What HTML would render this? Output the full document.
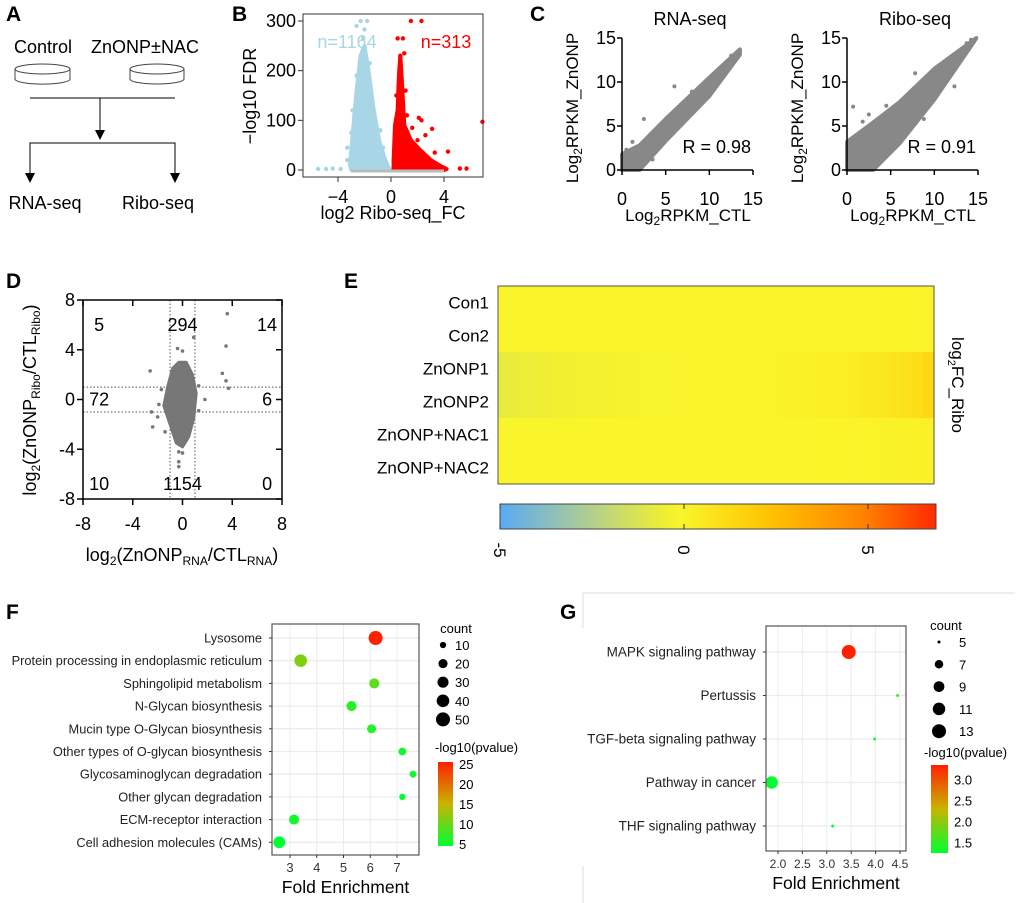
<!DOCTYPE html>
<html><head><meta charset="utf-8"><style>
body{margin:0;background:#fff}
svg{display:block;font-family:"Liberation Sans",Arial,sans-serif}
</style></head><body>
<svg id="fig" width="1020" height="903" viewBox="0 0 1020 903" xmlns="http://www.w3.org/2000/svg">
<g fill="none" stroke="#444" stroke-width="1">
<text x="6" y="21" font-size="21" font-weight="bold" fill="#000" stroke="none">A</text>
<text x="43" y="53" font-size="18" text-anchor="middle" fill="#000" stroke="none">Control</text>
<text x="145" y="53" font-size="18" text-anchor="middle" fill="#000" stroke="none">ZnONP±NAC</text>
<g><path d="M15 69 v10 a27 5 0 0 0 55 0 v-10"/><ellipse cx="42.5" cy="69" rx="27.5" ry="5"/></g>
<g><path d="M130 69 v10 a27 5 0 0 0 54 0 v-10"/><ellipse cx="157" cy="69" rx="27" ry="5"/></g>
<line x1="30" y1="98" x2="175" y2="98" stroke="#000"/>
<line x1="100" y1="98" x2="100" y2="132" stroke="#000"/>
<path d="M95 130 L105 130 L100 140Z" fill="#000" stroke="none"/>
<path d="M30 176 V143 H175 V176" stroke="#000"/>
<path d="M25 173 L35 173 L30 183Z M170 173 L180 173 L175 183Z" fill="#000" stroke="none"/>
<text x="45" y="209" font-size="18" text-anchor="middle" fill="#000" stroke="none">RNA-seq</text>
<text x="158" y="209" font-size="18" text-anchor="middle" fill="#000" stroke="none">Ribo-seq</text>
</g>
<text x="232" y="21" font-size="21" font-weight="bold">B</text>
<text x="530" y="21" font-size="21" font-weight="bold">C</text>
<text x="6" y="288" font-size="21" font-weight="bold">D</text>
<text x="344" y="288" font-size="21" font-weight="bold">E</text>
<text x="6" y="619" font-size="21" font-weight="bold">F</text>
<text x="560" y="619" font-size="21" font-weight="bold">G</text>
<path d="M583 593 H1015 M583 593 V628 M583 866 V903" stroke="#ddd" fill="none"/>
</svg>
<script>
// ---------- data arrays ----------
const volcanoBlueEnvelope = [[-3,0],[-3.1,10],[-3,40],[-2.8,100],[-2.6,160],[-2.3,230],[-2.0,250],[-1.7,200],[-1.3,120],[-0.9,60],[-0.5,25],[-0.2,5],[0,0]];
const volcanoBlueOutliers = [[-5.5,2],[-4.9,2],[-4.4,3],[-3.8,2],[-2.6,290],[-2.0,283],[-2.3,300],[-1.8,300],[-3.3,20],[-3.3,45],[-3.0,75],[-2.9,120],[-2.6,190],[-1.5,160],[-1.2,100],[-0.8,80],[-0.6,45],[-2.1,265],[-1.6,215]];
const volcanoRedEnvelope = [[0.2,0],[0.2,20],[0.3,90],[0.5,120],[0.6,190],[0.7,230],[0.8,190],[1.0,90],[1.5,60],[2.2,40],[3,20],[3.6,10],[4.2,2],[4,0]];
const volcanoRedOutliers = [[0.5,265],[0.9,265],[0.7,230],[1.0,235],[2.1,105],[2.3,100],[3.1,83],[4.3,37],[5.2,3],[5.7,3],[6.9,97],[1.5,300],[2.3,300],[1.2,110],[1.6,85],[2.6,70],[2.0,60],[3.3,35],[0.4,150],[1.1,160],[1.8,40],[2.8,25]];
const volcanoLabels = ["n=1164","n=313"];
const bXTicks = [-4,0,4];
const bYTicks = [0,100,200,300];

const rnaBand = [[0,0],[2,0],[5,3.3],[10,8.4],[13.5,13.1],[13.5,13.7],[10,10.5],[5,5.8],[2,2.8],[0,1.8]];
const rnaOutliers = [[6,9.5],[2.5,5.8],[0.5,2.3],[12.5,13],[13.5,13.5],[1.2,3.2],[3.5,1.2],[8,8.9]];
const riboBand = [[0,0],[3,0],[6,3],[10,8],[14.5,14.5],[14.8,15],[10,11.5],[6,7.7],[3,5.4],[0,3.2]];
const riboOutliers = [[0.7,7.2],[7.8,11],[12.3,9.5],[1.8,5.5],[13.7,14.4],[14.2,14.8],[2.5,6.3],[4.5,7.3],[8.8,5.8]];
const cTicks = [0,5,10,15];
const cR = ["R = 0.98","R = 0.91"];

const dBlob = [[-0.5,-3.5],[-1,-2],[-1.5,-0.5],[-1.2,1],[-0.8,2.5],[-0.3,3],[0.3,3],[0.8,2],[1.1,0.5],[0.9,-1.5],[0.5,-3],[0,-3.8]];
const dOutliers = [[-2.6,2.3],[-2.4,-2.2],[-2.5,-1],[3.6,6.9],[3.5,4.3],[3.2,2.1],[3.5,1.5],[3.7,0.9],[0.9,5],[-0.4,4.1],[0,3.9],[-0.3,-4.2],[0,-4.3],[-0.3,-5],[-0.3,-5.4],[1.8,0],[1.3,1.1],[-1.9,-0.4],[-2,-1.4],[-1.7,0.8],[1.3,-0.9],[-1.4,-2.6]];
const dTicks = [-8,-4,0,4,8];
const dCounts = [["5",-6.7,6],["294",0,6],["14",6.8,6],["72",-6.7,0],["6",6.8,0],["10",-6.7,-6.8],["1154",0,-6.8],["0",6.8,-6.8]];

const heatRows = ["Con1","Con2","ZnONP1","ZnONP2","ZnONP+NAC1","ZnONP+NAC2"];
const heatCon = [0,0,0,0,0,0,0,0,0,0,0,0,0,0,0,0,0,0,0,0,0,0,0,0,0,0,0,0,0,0,0,0,0,0.02,0.02,0.03,0.04,0.05,0.06,0.08];
const heatZn = [-0.75,-0.7,-0.65,-0.6,-0.55,-0.5,-0.45,-0.4,-0.35,-0.3,-0.26,-0.22,-0.18,-0.15,-0.12,-0.1,-0.07,-0.05,-0.03,0,0,0,0.02,0.05,0.08,0.1,0.13,0.17,0.2,0.25,0.3,0.35,0.42,0.5,0.58,0.68,0.8,0.95,1.15,1.4];
const heatNac = [0,0,0,0,0,0,0,0,0,0,0,0,0,0,0,0,0,0,0,0,0,0,0,0,0,0,0,0,0.02,0.03,0.05,0.06,0.08,0.1,0.1,0.12,0.14,0.16,0.18,0.2];
const heatValues = [heatCon,heatCon,heatZn,heatZn,heatNac,heatNac];
const cbTicks = [-5,0,5];

const fTerms = ["Lysosome","Protein processing in endoplasmic reticulum","Sphingolipid metabolism","N-Glycan biosynthesis","Mucin type O-Glycan biosynthesis","Other types of O-glycan biosynthesis","Glycosaminoglycan degradation","Other glycan degradation","ECM-receptor interaction","Cell adhesion molecules (CAMs)"];
const fEnrich = [6.2,3.4,6.15,5.3,6.05,7.2,7.6,7.2,3.15,2.6];
const fCount = [50,40,25,25,20,15,12,10,25,35];
const fPval = [27,12,10,7,7,6,6,5,6,5];
const fXTicks = [3,4,5,6,7];
const fCountLegend = [10,20,30,40,50];
const fPLegend = [25,20,15,10,5];

const gTerms = ["MAPK signaling pathway","Pertussis","TGF-beta signaling pathway","Pathway in cancer","THF signaling pathway"];
const gEnrich = [3.45,4.45,3.98,1.87,3.12];
const gCount = [13,5,5,11,5];
const gPval = [3.3,1.6,1.5,1.3,1.3];
const gXTicks = [2.0,2.5,3.0,3.5,4.0,4.5];
const gCountLegend = [5,7,9,11,13];
const gPLegend = [3.0,2.5,2.0,1.5];

// ---------- helpers ----------
const svg = document.getElementById('fig');
const NS = 'http://www.w3.org/2000/svg';
function mk(tag, attrs, parent, txt){const e=document.createElementNS(NS,tag);for(const k in attrs)e.setAttribute(k,attrs[k]);if(txt!==undefined)e.textContent=txt;(parent||svg).appendChild(e);return e;}
function lin(d0,d1,r0,r1){return v=>r0+(v-d0)*(r1-r0)/(d1-d0);}
function poly(pts,sx,sy){return pts.map(p=>sx(p[0]).toFixed(1)+','+sy(p[1]).toFixed(1)).join(' ');}
function mixHex(a,b,t){const pa=[1,3,5].map(i=>parseInt(a.substr(i,2),16)),pb=[1,3,5].map(i=>parseInt(b.substr(i,2),16));return 'rgb('+pa.map((v,i)=>Math.round(v+(pb[i]-v)*t)).join(',')+')';}

// ---------- Panel B ----------
(function(){
const g=mk('g',{});


const sx=lin(0,4,391,444), sy=lin(0,300,170,21);
const env1=mk('polygon',{points:poly(volcanoBlueEnvelope,sx,sy),fill:'#a9d6e6',stroke:'#a9d6e6','stroke-width':4,'stroke-linejoin':'round'},g);


const env2=mk('polygon',{points:poly(volcanoRedEnvelope,sx,sy),fill:'#f00',stroke:'#f00','stroke-width':4,'stroke-linejoin':'round'},g);


mk('line',{x1:sx(-3),x2:sx(4),y1:sy(0)+1,y2:sy(0)+1,stroke:'#bbb','stroke-width':3},g);
volcanoBlueOutliers.forEach(p=>{const c=mk('circle',{cx:sx(p[0]),cy:sy(p[1]),r:2.2,fill:'#a9d6e6'},g);

});
volcanoRedOutliers.forEach(p=>{const c=mk('circle',{cx:sx(p[0]),cy:sy(p[1]),r:2.2,fill:'#f00'},g);

});
const fr=mk('rect',{x:303,y:14,width:180,height:163,fill:'none',stroke:'#333','stroke-width':1},g);


bXTicks.forEach(t=>{mk('line',{x1:sx(t),x2:sx(t),y1:177,y2:182,stroke:'#333'},g);const l=mk('text',{x:sx(t),y:203,'font-size':18,'text-anchor':'middle'},g,t<0?'\u2212'+(-t):String(t));

});
bYTicks.forEach(t=>{mk('line',{x1:298,x2:303,y1:sy(t),y2:sy(t),stroke:'#333'},g);const l=mk('text',{x:296,y:sy(t)+6,'font-size':18,'text-anchor':'end'},g,String(t));

});
const l1=mk('text',{x:347,y:48,'font-size':18,'text-anchor':'middle',fill:'#a9d6e6'},g,volcanoLabels[0]);


const l2=mk('text',{x:446,y:48,'font-size':18,'text-anchor':'middle',fill:'#f00'},g,volcanoLabels[1]);


const xt=mk('text',{x:393,y:219,'font-size':18,'text-anchor':'middle'},g,'log2 Ribo-seq_FC');


const yt=mk('text',{x:0,y:0,'font-size':18,'text-anchor':'middle',transform:'translate(256,96) rotate(-90)'},g,'\u2212log10 FDR');


})();

// ---------- Panel C ----------
function scatterC(x0,title,band,outs,rtxt,nm){
const g=mk('g',{});


const sx=lin(0,15,x0,x0+131), sy=lin(0,15,170,38);
const b=mk('polygon',{points:poly(band,sx,sy),fill:'#888',stroke:'#888','stroke-width':4,'stroke-linejoin':'round'},g);


outs.forEach(p=>{const c=mk('circle',{cx:sx(p[0]),cy:sy(p[1]),r:2,fill:'#888'},g);

});
mk('path',{d:`M${x0} 38 V170 H${x0+131}`,fill:'none',stroke:'#000','stroke-width':1.5},g);
cTicks.forEach(t=>{mk('line',{x1:sx(t),x2:sx(t),y1:170,y2:175,stroke:'#000','stroke-width':1.5},g);mk('line',{x1:x0-5,x2:x0,y1:sy(t),y2:sy(t),stroke:'#000','stroke-width':1.5},g);
const a=mk('text',{x:sx(t),y:205,'font-size':18,'text-anchor':'middle'},g,String(t));


const bb=mk('text',{x:x0-6,y:sy(t)+6,'font-size':18,'text-anchor':'end'},g,String(t));

});
const t1=mk('text',{x:x0+68,y:25,'font-size':18,'text-anchor':'middle'},g,title);


const r=mk('text',{x:x0+129,y:153,'font-size':18,'text-anchor':'end'},g,rtxt);


const xt=mk('text',{x:x0+66,y:221,'font-size':17,'text-anchor':'middle'},g);


xt.innerHTML='Log<tspan font-size="12" dy="4">2</tspan><tspan dy="-4">RPKM_CTL</tspan>';
const yt=mk('text',{'font-size':17,'text-anchor':'middle',transform:`translate(${x0-44},108) rotate(-90)`},g);


yt.innerHTML='Log<tspan font-size="12" dy="4">2</tspan><tspan dy="-4">RPKM_ZnONP</tspan>';
}
scatterC(622,'RNA-seq',rnaBand,rnaOutliers,cR[0],'rna-seq-scatter');
scatterC(847,'Ribo-seq',riboBand,riboOutliers,cR[1],'ribo-seq-scatter');

// ---------- Panel D ----------
(function(){
const g=mk('g',{});


const sx=lin(-8,8,83,282), sy=lin(-8,8,499,300);
[-1,1].forEach(v=>{mk('line',{x1:sx(v),x2:sx(v),y1:300,y2:499,stroke:'#555','stroke-dasharray':'1.5,2'},g);mk('line',{x1:83,x2:282,y1:sy(v),y2:sy(v),stroke:'#555','stroke-dasharray':'1.5,2'},g);});
const b=mk('polygon',{points:poly(dBlob,sx,sy),fill:'#777',stroke:'#777','stroke-width':3,'stroke-linejoin':'round'},g);


dOutliers.forEach(p=>{const c=mk('circle',{cx:sx(p[0]),cy:sy(p[1]),r:1.8,fill:'#777'},g);

});
mk('rect',{x:83,y:300,width:199,height:199,fill:'none',stroke:'#000','stroke-width':1.5},g);
dTicks.forEach(t=>{mk('line',{x1:sx(t),x2:sx(t),y1:499,y2:505,stroke:'#000','stroke-width':1.5},g);mk('line',{x1:sx(t),x2:sx(t),y1:300,y2:306,stroke:'#000','stroke-width':1.5},g);
mk('line',{x1:77,x2:83,y1:sy(t),y2:sy(t),stroke:'#000','stroke-width':1.5},g);mk('line',{x1:276,x2:282,y1:sy(t),y2:sy(t),stroke:'#000','stroke-width':1.5},g);
const a=mk('text',{x:sx(t),y:530,'font-size':18,'text-anchor':'middle'},g,String(t));


const bb=mk('text',{x:75,y:sy(t)+6,'font-size':18,'text-anchor':'end'},g,String(t));

});
dCounts.forEach(c=>{const t=mk('text',{x:sx(c[1]),y:sy(c[2])+6,'font-size':18,'text-anchor':'middle'},g,c[0]);

});
const xt=mk('text',{x:182,y:561,'font-size':18,'text-anchor':'middle'},g);


xt.innerHTML='log<tspan font-size="12" dy="4">2</tspan><tspan dy="-4">(ZnONP</tspan><tspan font-size="12" dy="4">RNA</tspan><tspan dy="-4">/CTL</tspan><tspan font-size="12" dy="4">RNA</tspan><tspan dy="-4">)</tspan>';
const yt=mk('text',{'font-size':18,'text-anchor':'middle',transform:'translate(36,400) rotate(-90)'},g);


yt.innerHTML='log<tspan font-size="12" dy="4">2</tspan><tspan dy="-4">(ZnONP</tspan><tspan font-size="12" dy="4">Ribo</tspan><tspan dy="-4">/CTL</tspan><tspan font-size="12" dy="4">Ribo</tspan><tspan dy="-4">)</tspan>';
})();

// ---------- Panel E ----------
function heatColor(v){
const stops=[[-5,'#5aaaf5'],[-2.5,'#b4cf8c'],[-0.5,'#f0ef30'],[0,'#faf52a'],[2.5,'#ffc000'],[5,'#ff8000'],[6.9,'#ff2a00']];
if(v<=stops[0][0])return stops[0][1];
for(let i=1;i<stops.length;i++){if(v<=stops[i][0]){const t=(v-stops[i-1][0])/(stops[i][0]-stops[i-1][0]);return mixHex(stops[i-1][1],stops[i][1],t);}}
return stops[stops.length-1][1];}
(function(){
const g=mk('g',{});


const x0=498,x1=934,y0=286,y1=484,rh=(y1-y0)/heatRows.length;
heatValues.forEach((row,r)=>{const cw=(x1-x0)/row.length;
row.forEach((v,c)=>{const cell=mk('rect',{x:x0+c*cw,y:y0+r*rh,width:cw+0.6,height:rh+0.4,fill:heatColor(v)},g);

});
const l=mk('text',{x:489,y:y0+r*rh+rh/2+6,'font-size':17,'text-anchor':'end'},g,heatRows[r]);

});
mk('rect',{x:x0,y:y0,width:x1-x0,height:y1-y0,fill:'none',stroke:'#555'},g);
const lt=mk('text',{'font-size':17,'text-anchor':'middle',transform:'translate(952,385) rotate(90)'},g);


lt.innerHTML='log<tspan font-size="11" dy="4">2</tspan><tspan dy="-4">FC_Ribo</tspan>';
const cs=lin(-5,5,500,868);
const defs=mk('defs',{},g);const gr=mk('linearGradient',{id:'cbg',x1:0,x2:1,y1:0,y2:1e-9},defs);
for(let i=0;i<=24;i++){const v=-5+i*(11.9/24);mk('stop',{offset:i/24,'stop-color':heatColor(v)},gr);}
const cb=mk('rect',{x:500,y:504,width:436,height:25,fill:'url(#cbg)',stroke:'#444'},g);


cbTicks.forEach(t=>{mk('line',{x1:cs(t),x2:cs(t),y1:504,y2:509,stroke:'#333'},g);mk('line',{x1:cs(t),x2:cs(t),y1:524,y2:529,stroke:'#333'},g);
const l=mk('text',{'font-size':17,'text-anchor':'middle',transform:`translate(${cs(t)-6},550) rotate(90)`},g,String(t));

});
})();

// ---------- Dot plots ----------
function dotPlot(o){
const g=mk('g',{});


const sx=lin(o.xd[0],o.xd[1],o.xr[0],o.xr[1]);
mk('rect',{x:o.box[0],y:o.box[1],width:o.box[2]-o.box[0],height:o.box[3]-o.box[1],fill:'#fff'},g);
o.ticks.forEach(t=>{mk('line',{x1:sx(t),x2:sx(t),y1:o.box[1],y2:o.box[3],stroke:'#ececec','stroke-width':1},g);});
o.terms.forEach((t,i)=>{const y=o.rowY(i);mk('line',{x1:o.box[0],x2:o.box[2],y1:y,y2:y,stroke:'#ececec','stroke-width':1.3},g);
mk('line',{x1:o.box[0]-3,x2:o.box[0],y1:y,y2:y,stroke:'#333'},g);
const l=mk('text',{x:o.box[0]-10,y:y+4.5,'font-size':o.fs,'text-anchor':'end',fill:'#222'},g,t);

});
o.terms.forEach((t,i)=>{const c=mk('circle',{cx:sx(o.enrich[i]),cy:o.rowY(i),r:o.rs(o.count[i]),fill:o.col(o.pval[i])},g);

});
mk('rect',{x:o.box[0],y:o.box[1],width:o.box[2]-o.box[0],height:o.box[3]-o.box[1],fill:'none',stroke:'#555','stroke-width':1.2},g);
o.ticks.forEach(t=>{mk('line',{x1:sx(t),x2:sx(t),y1:o.box[3],y2:o.box[3]+3,stroke:'#333'},g);
const l=mk('text',{x:sx(t),y:o.box[3]+17,'font-size':o.tfs,'text-anchor':'middle',fill:'#333'},g,o.tfmt(t));

});
const xt=mk('text',{x:(o.box[0]+o.box[2])/2,y:o.box[3]+38,'font-size':17.5,'text-anchor':'middle'},g,'Fold Enrichment');


const ct=mk('text',{x:o.leg.x,y:o.leg.cy,'font-size':13,'text-anchor':'middle'},g,'count');


o.countLeg.forEach((v,i)=>{const y=o.leg.c0+i*o.leg.cs;const c=mk('circle',{cx:o.leg.dx,cy:y,r:o.rs(v),fill:'#000'},g);


const l=mk('text',{x:o.leg.tx,y:y+5,'font-size':13},g,String(v));

});
const pt=mk('text',{x:o.leg.px,y:o.leg.py,'font-size':13},g,'-log10(pvalue)');


const id='grad'+o.name;const defs=mk('defs',{},g);const gr=mk('linearGradient',{id:id,x1:0,x2:0,y1:0,y2:1},defs);
mk('stop',{offset:0,'stop-color':'#ff2000'},gr);mk('stop',{offset:0.5,'stop-color':'#c8b400'},gr);mk('stop',{offset:1,'stop-color':'#00ff30'},gr);
const cb=mk('rect',{x:o.cb[0],y:o.cb[1],width:o.cb[2],height:o.cb[3],fill:`url(#${id})`},g);


const cy=lin(o.cbd[0],o.cbd[1],o.cb[1]+o.cb[3]-2,o.cb[1]+2);
o.pLeg.forEach(v=>{const l=mk('text',{x:o.cb[0]+o.cb[2]+6,y:cy(v)+5,'font-size':13},g,o.pfmt(v));

});
}
function colF(p){const t=Math.max(0,Math.min(1,(p-5)/(27-5)));return t<0.5?mixHex('#00ff30','#c8b400',t*2):mixHex('#c8b400','#ff2000',(t-0.5)*2);}
function colG(p){const t=Math.max(0,Math.min(1,(p-1.3)/(3.3-1.3)));return t<0.5?mixHex('#00ff30','#c8b400',t*2):mixHex('#c8b400','#ff2000',(t-0.5)*2);}
dotPlot({name:'kegg-dotplot-f',terms:fTerms,enrich:fEnrich,count:fCount,pval:fPval,ticks:fXTicks,
xd:[3,7],xr:[290,397],box:[272,624,419,855],rowY:i=>638+i*22.7,fs:12.8,tfs:13,tfmt:t=>String(t),
rs:c=>1.2+Math.sqrt((c-5)/45)*5.8,col:colF,countLeg:fCountLegend,pLeg:fPLegend,pfmt:v=>String(v),
leg:{x:456,cy:633,c0:645,cs:18.6,dx:443,tx:455,px:435,py:752},cb:[438,762,15,84],cbd:[5,25]});
dotPlot({name:'kegg-dotplot-g',terms:gTerms,enrich:gEnrich,count:gCount,pval:gPval,ticks:gXTicks,
xd:[2,4.5],xr:[778,900],box:[766,626,906,851],rowY:i=>652+i*43.5,fs:13.5,tfs:12,tfmt:t=>t.toFixed(1),
rs:c=>1.5+Math.sqrt((c-5)/8)*5.5,col:colG,countLeg:gCountLegend,pLeg:gPLegend,pfmt:v=>v.toFixed(1),
leg:{x:946,cy:630,c0:642,cs:22.3,dx:939,tx:959,px:924,py:757},cb:[931,765,17,88],cbd:[1.3,3.3]});
</script>
</body></html>
